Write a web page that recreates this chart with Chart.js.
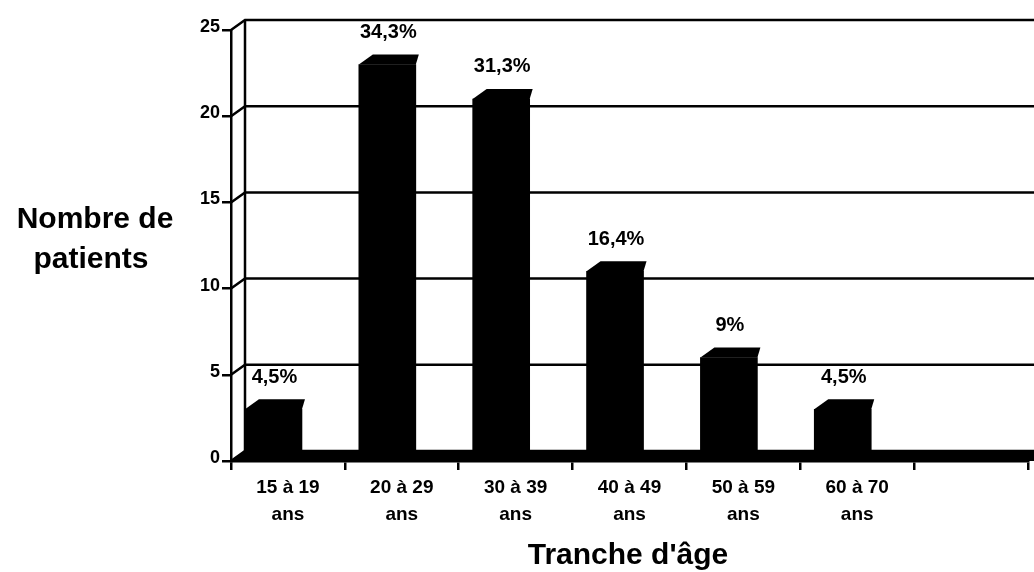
<!DOCTYPE html>
<html>
<head>
<meta charset="utf-8">
<script src="https://cdn.jsdelivr.net/npm/chart.js@4"></script>
<style>
  html, body { margin: 0; padding: 0; background: #fff; }
  #wrap { position: relative; width: 1034px; height: 572px; }
</style>
</head>
<body>
<div id="wrap"><canvas id="chart" width="1034" height="572"></canvas></div>
<script>
// donnees
const ageGroups = [['15 à 19', 'ans'], ['20 à 29', 'ans'], ['30 à 39', 'ans'], ['40 à 49', 'ans'], ['50 à 59', 'ans'], ['60 à 70', 'ans'], ''];
const patients = [3, 23, 21, 11, 6, 3];
const percentLabels = ['4,5%', '34,3%', '31,3%', '16,4%', '9%', '4,5%'];
const yTicks = [0, 5, 10, 15, 20, 25];

const FONT = "'Liberation Sans', Arial, sans-serif";
const DX = 14, DY = 10;       // profondeur 3D
const barShift = 0.127;       // decalage des barres vers la gauche (fraction de categorie)
const LW = 2.5;

const wall3d = {
    id: 'wall3d',
    beforeDatasetsDraw(chart) {
        const ctx = chart.ctx;
        const y = chart.scales.y;
        const a = chart.chartArea;
        const W = chart.width;
        ctx.save();
        ctx.strokeStyle = '#000';
        ctx.lineWidth = LW;
        yTicks.forEach(v => {
            const py = y.getPixelForValue(v);
            ctx.beginPath();
            ctx.moveTo(a.left, py);
            ctx.lineTo(a.left + DX, py - DY);
            ctx.lineTo(W, py - DY);
            ctx.stroke();
        });
        // paroi arriere gauche
        ctx.beginPath();
        ctx.moveTo(a.left + DX, y.getPixelForValue(25) - DY);
        ctx.lineTo(a.left + DX, y.getPixelForValue(0) - DY);
        ctx.stroke();
        // plancher
        const p0 = y.getPixelForValue(0);
        ctx.fillStyle = '#000';
        ctx.beginPath();
        ctx.moveTo(a.left, p0);
        ctx.lineTo(a.left + DX, p0 - DY);
        ctx.lineTo(W, p0 - DY);
        ctx.lineTo(W, p0);
        ctx.closePath();
        ctx.fill();
        ctx.restore();
    },
    afterDatasetsDraw(chart) {
        const ctx = chart.ctx;
        const meta = chart.getDatasetMeta(0);
        ctx.save();
        ctx.fillStyle = '#000';
        meta.data.forEach((bar, i) => {
            const p = bar.getProps(['x', 'y', 'width'], true);
            const L = p.x - p.width / 2, R = p.x + p.width / 2;
            ctx.beginPath();
            ctx.moveTo(L, p.y);
            ctx.lineTo(L + DX, p.y - DY);
            ctx.lineTo(R + 3, p.y - DY);
            ctx.lineTo(R, p.y);
            ctx.closePath();
            ctx.fill();
            ctx.font = 'bold 20px ' + FONT;
            ctx.textAlign = 'center';
            ctx.textBaseline = 'middle';
            ctx.fillText(percentLabels[i], p.x + 1, p.y - 32);
        });
        // titres des axes
        ctx.font = 'bold 30px ' + FONT;
        ctx.textAlign = 'center';
        ctx.textBaseline = 'alphabetic';
        ctx.fillText('Nombre de', 95, 228);
        ctx.fillText('patients', 91, 268);
        ctx.fillText("Tranche d'âge", 628, 564);
        ctx.restore();
    }
};

const ctx = document.getElementById('chart').getContext('2d');
const chart = new Chart(ctx, {
    type: 'bar',
    data: {
        labels: ageGroups,
        datasets: [{
            data: patients.map((v, i) => ({x: i, y: v})),
            xAxisID: 'xb',
            backgroundColor: '#000',
            borderWidth: 0,
            barThickness: 57
        }]
    },
    options: {
        responsive: false,
        animation: false,
        layout: { padding: { left: 0, top: 30, right: 6, bottom: 0 } },
        plugins: {
            legend: { display: false },
            tooltip: { enabled: false }
        },
        scales: {
            x: {
                type: 'category',
                offset: true,
                grid: {
                    offset: true,
                    drawOnChartArea: false,
                    tickLength: 9,
                    color: '#000',
                    lineWidth: LW
                },
                border: { color: '#000', width: LW },
                ticks: {
                    color: '#000',
                    font: { family: FONT, size: 19, weight: 'bold', lineHeight: 1.42 },
                    padding: 4,
                    maxRotation: 0,
                    autoSkip: false
                },
                afterFit(s) { s.height = 111; }
            },
            xb: {
                type: 'linear',
                display: false,
                offset: false,
                min: -0.5 + barShift,
                max: ageGroups.length - 0.5 + barShift
            },
            y: {
                min: 0,
                max: 25,
                ticks: {
                    stepSize: 5,
                    color: '#000',
                    font: { family: FONT, size: 18, weight: 'bold' },
                    padding: 2,
                    labelOffset: -3
                },
                grid: {
                    drawOnChartArea: false,
                    tickLength: 9,
                    color: '#000',
                    lineWidth: LW
                },
                border: { color: '#000', width: LW },
                afterFit(s) { s.width = 231; }
            }
        }
    },
    plugins: [wall3d]
});
</script>
</body>
</html>
